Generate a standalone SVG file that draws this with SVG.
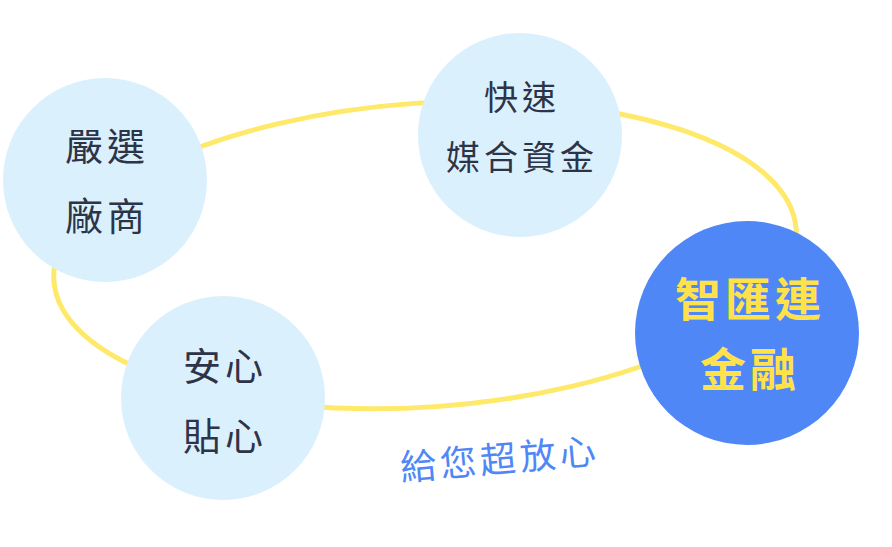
<svg xmlns="http://www.w3.org/2000/svg" width="892" height="547" viewBox="0 0 892 547">
<style>
.c{fill:#DBF0FD}
.t{font-family:"Noto Sans CJK TC","Noto Sans CJK SC",sans-serif;fill:#2E3447;text-anchor:middle;letter-spacing:4px}
</style>
<rect width="892" height="547" fill="#fff"/>
<g id="connectors">
<ellipse cx="425" cy="255" rx="372" ry="152" transform="rotate(-4 425 255)" fill="none" stroke="#FFE96A" stroke-width="5"/>
</g>
<g id="n1"><circle class="c" cx="105" cy="180" r="102"/>
<text class="t" x="107" y="160" font-size="38">嚴選</text><text class="t" x="107" y="230" font-size="38">廠商</text></g>
<g id="n2"><circle class="c" cx="520" cy="135" r="102"/>
<text class="t" x="522" y="110" font-size="34">快速</text><text class="t" x="522" y="170" font-size="34">媒合資金</text></g>
<g id="n3"><circle cx="747" cy="333" r="112" fill="#4F87F7"/>
<text class="t" x="750" y="316" font-size="46" font-weight="bold" style="fill:#FFE24A">智匯連</text><text class="t" x="750" y="386" font-size="46" font-weight="bold" style="fill:#FFE24A">金融</text></g>
<g id="n4"><circle class="c" cx="223" cy="398" r="102"/>
<text class="t" x="225" y="380" font-size="38">安心</text><text class="t" x="225" y="450" font-size="38">貼心</text></g>
<text class="t" x="500" y="472" font-size="36" transform="rotate(-5 500 460)" style="fill:#4F87F7">給您超放心</text>
</svg>
